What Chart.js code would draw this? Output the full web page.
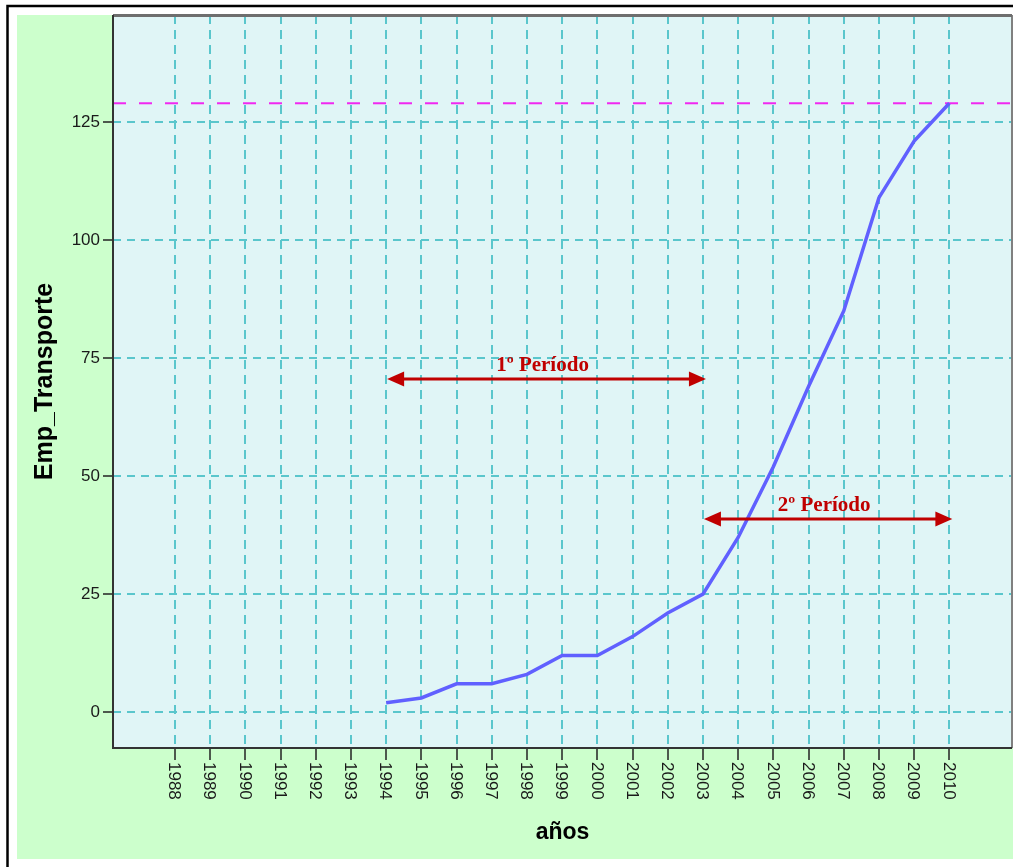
<!DOCTYPE html>
<html>
<head>
<meta charset="utf-8">
<title>Emp_Transporte por años</title>
<script src="https://cdn.jsdelivr.net/npm/chart.js@4.4.1/dist/chart.umd.min.js"></script>
<style>
	html, body { margin: 0; padding: 0; background: #fff; }
	#wrap { position: relative; width: 1013px; height: 867px; }
</style>
</head>
<body>
<div id="wrap"><canvas id="chart"></canvas></div>
<script>
"use strict";

// data
const years = [1994, 1995, 1996, 1997, 1998, 1999, 2000, 2001, 2002, 2003, 2004, 2005, 2006, 2007, 2008, 2009, 2010];
const empTransporte = [2, 3, 6, 6, 8, 12, 12, 16, 21, 25, 37, 52, 69, 85, 109, 121, 129];
const xTickYears = [1988, 1989, 1990, 1991, 1992, 1993, 1994, 1995, 1996, 1997, 1998, 1999, 2000, 2001, 2002, 2003, 2004, 2005, 2006, 2007, 2008, 2009, 2010];
const yTicks = [0, 25, 50, 75, 100, 125];
const refLevel = 129;
const periodLabels = ["1º Período", "2º Período"];
const periodFrom = [1994, 2003];
const periodTo = [2003, 2010];
const periodLevel = [70.6, 40.9];
const xRange = [1986.24, 2011.78];
const yRange = [-7.6, 147.7];

const ctx = document.getElementById("chart");
const axisFont = "'Liberation Sans', Arial, sans-serif";

const backgroundPlugin = {
	id: "background",
	beforeDraw(chart) {
		const c = chart.ctx;
		const a = chart.chartArea;
		c.save();
		c.fillStyle = "#ffffff";
		c.fillRect(0, 0, chart.width, chart.height);
		c.fillStyle = "#ccffcc";
		c.fillRect(17, 15, chart.width - 17, 844);
		c.strokeStyle = "#000000";
		c.lineWidth = 2.5;
		c.beginPath();
		c.moveTo(7.5, 867);
		c.lineTo(7.5, 6);
		c.lineTo(chart.width, 6);
		c.stroke();
		c.fillStyle = "#e0f5f6";
		c.fillRect(a.left, a.top, a.right - a.left, a.bottom - a.top);
		c.restore();
	},
};

const annotationPlugin = {
	id: "annotations",
	afterDraw(chart) {
		const c = chart.ctx;
		const a = chart.chartArea;
		const xs = chart.scales.x;
		const ys = chart.scales.y;

		// period arrows
		c.save();
		c.strokeStyle = "#c00000";
		c.fillStyle = "#c00000";
		c.lineWidth = 3;
		for (let i = 0; i < periodLabels.length; i++) {
			const x1 = xs.getPixelForValue(periodFrom[i]) + 1;
			const x2 = xs.getPixelForValue(periodTo[i]) + 3;
			const y = ys.getPixelForValue(periodLevel[i]);
			const head = 17;
			c.beginPath();
			c.moveTo(x1 + head - 2, y);
			c.lineTo(x2 - head + 2, y);
			c.stroke();
			c.beginPath();
			c.moveTo(x1, y);
			c.lineTo(x1 + head, y - 7.5);
			c.lineTo(x1 + head, y + 7.5);
			c.closePath();
			c.fill();
			c.beginPath();
			c.moveTo(x2, y);
			c.lineTo(x2 - head, y - 7.5);
			c.lineTo(x2 - head, y + 7.5);
			c.closePath();
			c.fill();
			c.font = "bold 21px 'Liberation Serif', 'Times New Roman', serif";
			c.textAlign = "center";
			c.textBaseline = "alphabetic";
			c.fillText(periodLabels[i], (x1 + x2) / 2 - 4, y - 8);
		}
		c.restore();

		// x tick labels, turned clockwise
		c.save();
		c.fillStyle = "#1a1a1a";
		c.font = "17px " + axisFont;
		c.textAlign = "left";
		c.textBaseline = "middle";
		for (const yr of xTickYears) {
			const x = xs.getPixelForValue(yr);
			c.save();
			c.translate(x - 1, a.bottom + 14);
			c.rotate(Math.PI / 2);
			c.fillText(String(yr), 0, 0);
			c.restore();
		}
		c.restore();

		// plot frame
		c.save();
		c.lineWidth = 2;
		c.strokeStyle = "#808080";
		c.beginPath();
		c.moveTo(a.right, a.top);
		c.lineTo(a.right, a.bottom);
		c.stroke();
		c.lineWidth = 3;
		c.strokeStyle = "#6e6e6e";
		c.beginPath();
		c.moveTo(a.left, a.top + 0.5);
		c.lineTo(a.right, a.top + 0.5);
		c.stroke();
		c.lineWidth = 2;
		c.strokeStyle = "#333333";
		c.beginPath();
		c.moveTo(a.left, a.top);
		c.lineTo(a.left, a.bottom);
		c.lineTo(a.right, a.bottom);
		c.stroke();
		c.restore();
	},
};

new Chart(ctx, {
	type: "line",
	data: {
		datasets: [
			{
				label: "Emp_Transporte",
				data: years.map((yr, i) => ({ x: yr, y: empTransporte[i] })),
				borderColor: "#6060ff",
				borderWidth: 3.5,
				pointRadius: 0,
				tension: 0,
			},
			{
				label: "ref",
				data: [
					{ x: xRange[0], y: refLevel },
					{ x: xRange[1], y: refLevel },
				],
				borderColor: "#f028f0",
				borderWidth: 2,
				borderDash: [13, 13],
				pointRadius: 0,
			},
		],
	},
	options: {
		responsive: true,
		maintainAspectRatio: false,
		animation: false,
		layout: {
			padding: { left: 17, top: 15, right: 1, bottom: 8 },
		},
		plugins: {
			legend: { display: false },
			tooltip: { enabled: false },
		},
		scales: {
			x: {
				type: "linear",
				min: xRange[0],
				max: xRange[1],
				afterBuildTicks: (scale) => {
					scale.ticks = xTickYears.map((v) => ({ value: v }));
				},
				afterFit: (scale) => {
					scale.height = 111;
				},
				ticks: { display: false },
				grid: {
					color: "#5ac6cc",
					lineWidth: 2,
					tickColor: "#222222",
					tickLength: 12,
					tickWidth: 1.5,
					tickBorderDash: [],
				},
				border: { display: false, dash: [9, 6] },
				title: {
					display: true,
					text: "años",
					color: "#000000",
					font: { family: axisFont, size: 23, weight: "bold" },
					padding: { top: 0, bottom: 13 },
				},
			},
			y: {
				min: yRange[0],
				max: yRange[1],
				afterBuildTicks: (scale) => {
					scale.ticks = yTicks.map((v) => ({ value: v }));
				},
				afterFit: (scale) => {
					scale.width = 96;
				},
				ticks: {
					color: "#1a1a1a",
					padding: 3,
					font: { family: axisFont, size: 17 },
				},
				grid: {
					color: "#5ac6cc",
					lineWidth: 2,
					tickColor: "#222222",
					tickLength: 10,
					tickWidth: 1.5,
					tickBorderDash: [],
				},
				border: { display: false, dash: [8, 6] },
				title: {
					display: true,
					text: "Emp_Transporte",
					color: "#000000",
					font: { family: axisFont, size: 25, weight: "bold" },
					padding: { top: 13, bottom: 0 },
				},
			},
		},
	},
	plugins: [backgroundPlugin, annotationPlugin],
});
</script>
</body>
</html>
